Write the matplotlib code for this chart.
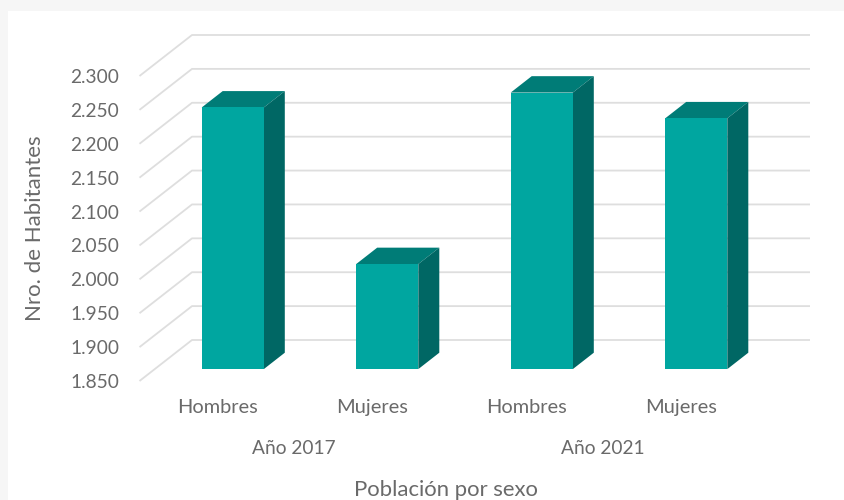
import matplotlib
matplotlib.use("Agg")
import matplotlib.pyplot as plt
from matplotlib.patches import Polygon, Rectangle

sexes = ["Hombres", "Mujeres", "Hombres", "Mujeres"]
years = ["Año 2017", "Año 2021"]
values = [2236, 2005, 2258, 2220]
y_ticks = [1850, 1900, 1950, 2000, 2050, 2100, 2150, 2200, 2250, 2300]
y_labels = ["1.850", "1.900", "1.950", "2.000", "2.050", "2.100", "2.150", "2.200", "2.250", "2.300"]

W, H = 844, 500
plt.rcParams["font.family"] = ["Lato", "DejaVu Sans"]
TXT = "#6a6a6a"
GRID = "#dedede"
FRONT, TOP, SIDE = "#00a6a0", "#007c77", "#006764"

fig = plt.figure(figsize=(W / 100, H / 100), dpi=100, facecolor="#f6f6f6")
fig.add_artist(Rectangle((8 / W, 0), 1, 1 - 11 / H, transform=fig.transFigure,
                         facecolor="white", edgecolor="none", zorder=-5))

L, R, B, T = 139.5, 757.5, 381, 76
ax = fig.add_axes([L / W, 1 - B / H, (R - L) / W, (B - T) / H])
ax.patch.set_alpha(0)
ax.set_xlim(0, 4)
ax.set_ylim(y_ticks[0], y_ticks[-1])
for s in ax.spines.values():
    s.set_visible(False)

# oblique depth projection, in data units of the axes
DX = 52.5 / ((R - L) / 4)
DY = 41 / ((B - T) / (y_ticks[-1] - y_ticks[0]))


def proj(x, v, d):
    return x + d * DX, v + d * DY


for v in y_ticks:
    xs, ys = zip(proj(0, v, 0), proj(0, v, 1), proj(4, v, 1))
    ax.plot(xs, ys, color=GRID, lw=1.3, clip_on=False, zorder=1, solid_capstyle="butt")

BAR_W = 0.402
D0, D1 = 0.29, 0.69
centers = [i + 0.505 for i in range(len(values))]
for c, v in zip(centers, values):
    x0, x1 = c - BAR_W / 2, c + BAR_W / 2
    base = y_ticks[0]
    ax.add_patch(Polygon([proj(x0, v, D0), proj(x1, v, D0), proj(x1, v, D1), proj(x0, v, D1)],
                         facecolor=TOP, edgecolor="none", clip_on=False, zorder=3))
    ax.add_patch(Polygon([proj(x1, base, D0), proj(x1, base, D1), proj(x1, v, D1), proj(x1, v, D0)],
                         facecolor=SIDE, edgecolor="none", clip_on=False, zorder=3))
    ax.add_patch(Polygon([proj(x0, base, D0), proj(x1, base, D0), proj(x1, v, D0), proj(x0, v, D0)],
                         facecolor=FRONT, edgecolor="none", clip_on=False, zorder=4))

ax.set_yticks(y_ticks, y_labels)
ax.set_xticks(centers, sexes)
ax.tick_params(axis="y", length=0, pad=14.5, labelsize=13.8, labelcolor=TXT)
ax.tick_params(axis="x", length=0, pad=13, labelsize=14.4, labelcolor=TXT)

for i, yr in enumerate(years):
    ax.annotate(yr, xy=(2 * i + 1, y_ticks[0]), xycoords="data", xytext=(0, -48.5),
                textcoords="offset points", ha="center", va="center", fontsize=13.8, color=TXT)

fig.text(445.5 / W, 1 - 490 / H, "Población por sexo", ha="center", va="center", fontsize=15.9, color=TXT)
fig.text(35 / W, 1 - 228 / H, "Nro. de Habitantes", ha="center", va="center", rotation=90,
         fontsize=16, color=TXT)

fig.savefig("out.png", dpi=100, facecolor=fig.get_facecolor())
